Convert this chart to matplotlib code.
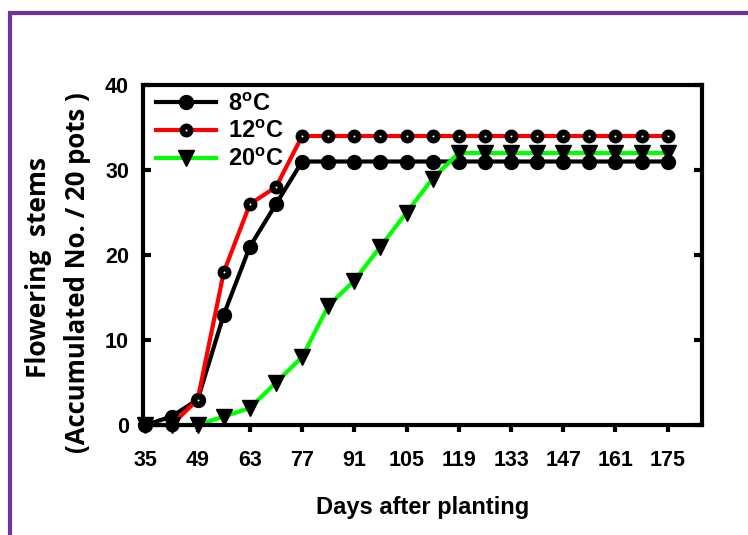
import matplotlib
matplotlib.use('Agg')
import matplotlib.pyplot as plt
from matplotlib.patches import Rectangle

plt.rcParams['mathtext.fontset'] = 'custom'
plt.rcParams['mathtext.bf'] = 'Liberation Sans:bold'
plt.rcParams['mathtext.rm'] = 'Liberation Sans:bold'

days = [35, 42, 49, 56, 63, 70, 77, 84, 91, 98, 105, 112, 119, 126, 133,
        140, 147, 154, 161, 168, 175]
stems_8c = [0, 1, 3, 13, 21, 26, 31, 31, 31, 31, 31, 31, 31, 31, 31,
            31, 31, 31, 31, 31, 31]
stems_12c = [0, 0, 3, 18, 26, 28, 34, 34, 34, 34, 34, 34, 34, 34, 34,
             34, 34, 34, 34, 34, 34]
stems_20c = [0, 0, 0, 1, 2, 5, 8, 14, 17, 21, 25, 29, 32, 32, 32,
             32, 32, 32, 32, 32, 32]
xticks = [35, 49, 63, 77, 91, 105, 119, 133, 147, 161, 175]
yticks = [0, 10, 20, 30, 40]

fig = plt.figure(figsize=(7.48, 5.35), dpi=100)
ax = fig.add_axes([0.191, 0.2056, 0.7475, 0.6355])

# purple frame around the whole chart
fig.patches.append(Rectangle((10 / 748, -0.2), 2, (535 - 13) / 535 + 0.2,
                             transform=fig.transFigure, fill=False,
                             edgecolor='#7030A0', linewidth=3))

ax.plot(days, stems_8c, color='black', lw=3, marker='o', ms=10,
        mfc='black', mec='black', label=r'8$^{\mathbf{o}}$C', clip_on=False)
ax.plot(days, stems_12c, color='#FF0000', lw=3, marker='o', ms=5.8,
        mfc='white', mec='black', mew=4.2, label=r'12$^{\mathbf{o}}$C',
        clip_on=False)
ax.plot(days, stems_20c, color='#00FF00', lw=3, marker='v', ms=12,
        mfc='black', mec='black', label=r'20$^{\mathbf{o}}$C', clip_on=False)

ax.set_xlim(34.3, 184.2)
ax.set_ylim(0, 40)
ax.set_xticks(xticks)
ax.set_yticks(yticks)
for s in ax.spines.values():
    s.set_linewidth(3)
ax.tick_params(axis='x', direction='out', length=5, width=3, pad=13)
ax.tick_params(axis='y', direction='in', length=6, width=3, pad=10,
               right=True)
for lab in ax.get_xticklabels() + ax.get_yticklabels():
    lab.set_family('Liberation Sans')
    lab.set_fontweight('bold')
    lab.set_fontsize(15.5)

ax.set_xlabel('Days after planting', family='Liberation Sans',
              fontweight='bold', fontsize=17, labelpad=18)
fig.text(0.052, 0.5, 'Flowering  stems', rotation=90, ha='center',
         va='center', family=['Open Sans'], fontweight='bold', fontsize=19)
fig.text(0.103, 0.49, '(Accumulated No. / 20 pots )', rotation=90,
         ha='center', va='center', family=['Open Sans'], fontweight='bold',
         fontsize=18.5)

ax.legend(loc='upper left', bbox_to_anchor=(-0.014, 1.04), frameon=False,
          handlelength=2.55, handletextpad=0.5, labelspacing=0.2,
          prop={'family': 'Liberation Sans', 'weight': 'bold', 'size': 17})

fig.savefig('out.png', dpi=100)
